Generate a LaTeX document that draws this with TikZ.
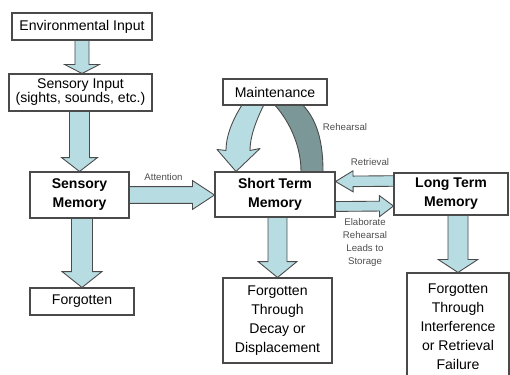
\documentclass[tikz,border=0pt]{standalone}
\usepackage{fontspec}
\setmainfont{Liberation Sans}
\usetikzlibrary{calc}
\definecolor{arrowblue}{HTML}{B7DCE2}
\definecolor{loopgray}{HTML}{7B9797}
\definecolor{edgegray}{HTML}{4A4A4A}
\definecolor{notegray}{HTML}{4D4D4D}
\tikzset{
  box/.style={draw=edgegray,fill=white,line width=0.6pt,inner sep=0pt,align=center,font=\fontsize{8}{10.8}\selectfont},
  memory/.style={box,font=\fontsize{8}{10.8}\selectfont\bfseries},
  note/.style={text=notegray,align=center,font=\fontsize{5.5}{7.4}\selectfont},
  blockarrow/.style={draw=edgegray,fill=arrowblue,line width=0.5pt,line join=miter}
}
% #1 half shaft, #2 half head, #3 head length, #4 tail, #5 tip
\newcommand{\blockarrow}[5]{%
  \coordinate (bt) at (#4);
  \coordinate (bp) at (#5);
  \coordinate (bh) at ($(bp)!#3!(bt)$);
  \draw[blockarrow] ($(bt)!#1!90:(bp)$) -- ($(bh)!#1!90:(bp)$) -- ($(bh)!#2!90:(bp)$)
    -- (bp) -- ($(bh)!#2!-90:(bp)$) -- ($(bh)!#1!-90:(bp)$) -- ($(bt)!#1!-90:(bp)$) -- cycle;
}
\begin{document}
\begin{tikzpicture}
\clip (0,0) rectangle (10.2,7.48);
\node[box,minimum width=2.8cm,minimum height=0.54cm] (env) at (1.64,6.95) {Environmental Input};
\node[box,minimum width=2.86cm,minimum height=0.74cm,font=\fontsize{8}{8}\selectfont] (sensin) at (1.61,5.63) {Sensory Input\\(sights, sounds, etc.)};
\node[memory,minimum width=1.98cm,minimum height=0.92cm] (sensmem) at (1.59,3.58) {Sensory\\Memory};
\node[box,minimum width=2.08cm,minimum height=0.54cm] (forg1) at (1.64,1.45) {Forgotten};
\node[memory,minimum width=2.4cm,minimum height=0.9cm] (stm) at (5.5,3.59) {Short Term\\Memory};
\node[memory,minimum width=2.28cm,minimum height=0.84cm] (ltm) at (9.02,3.6) {Long Term\\Memory};
\node[box,minimum width=2.18cm,minimum height=1.7cm] (forg2) at (5.55,1.07) {Forgotten\\Through\\Decay or\\Displacement};
\node[box,minimum width=2.04cm,minimum height=2.16cm] (forg3) at (9.16,0.94) {Forgotten\\Through\\Interference\\or Retrieval\\Failure};
% maintenance loop
\path (stm.north) ++(0,1.6) coordinate (mtop);
\fill[loopgray,draw=edgegray,line width=0.5pt] ($(stm.north)+(0.96,0)$) .. controls +(0,0.7) and +(0.55,-0.3) .. ($(mtop)+(0.25,-0.04)$)
  -- ($(mtop)+(-0.25,-0.04)$) .. controls +(0.45,-0.35) and +(0,0.6) .. ($(stm.north)+(0.52,0)$) -- cycle;
\draw[blockarrow,line join=round] ($(mtop)+(-0.5,-0.04)$) .. controls +(-0.3,-0.4) and +(0,0.35) .. ($(stm.north)+(-0.98,0.42)$)
  -- ++(-0.18,0.02) -- ($(stm.north)+(-0.78,0)$) -- ($(stm.north)+(-0.3,0.46)$) -- ($(stm.north)+(-0.5,0.42)$)
  .. controls +(0,0.35) and +(-0.2,-0.35) .. ($(mtop)+(-0.1,-0.04)$) -- cycle;
\node[box,minimum width=2.08cm,minimum height=0.52cm] (maint) at (5.5,5.64) {Maintenance};
% block arrows
\blockarrow{4pt}{9.9pt}{5.1pt}{env.south}{env.south |- sensin.north}
\blockarrow{5.7pt}{10.2pt}{7.9pt}{sensmem.north |- sensin.south}{sensmem.north}
\blockarrow{6pt}{11.3pt}{9pt}{forg1.north |- sensmem.south}{forg1.north}
\blockarrow{4.8pt}{8.2pt}{12.5pt}{sensmem.east}{stm.west |- sensmem.east}
\blockarrow{5.4pt}{11pt}{9pt}{forg2.north |- stm.south}{forg2.north}
\blockarrow{5.7pt}{11.3pt}{7.4pt}{forg3.north |- ltm.south}{forg3.north}
\blockarrow{3pt}{6pt}{10pt}{$(ltm.west)+(0,0.26)$}{$(stm.east)+(0,0.26)$}
\blockarrow{2.8pt}{6pt}{8pt}{$(stm.east)+(0,-0.24)$}{$(ltm.west)+(0,-0.24)$}
% labels
\node[note] (attlabel) at (3.27,3.94) {Attention};
\node[note] (rehlabel) at (6.9,4.94) {Rehearsal};
\node[note] (retlabel) at (7.4,4.24) {Retrieval};
\node[note] (elablabel) at (7.3,2.63) {Elaborate\\Rehearsal\\Leads to\\Storage};
\end{tikzpicture}
\end{document}
